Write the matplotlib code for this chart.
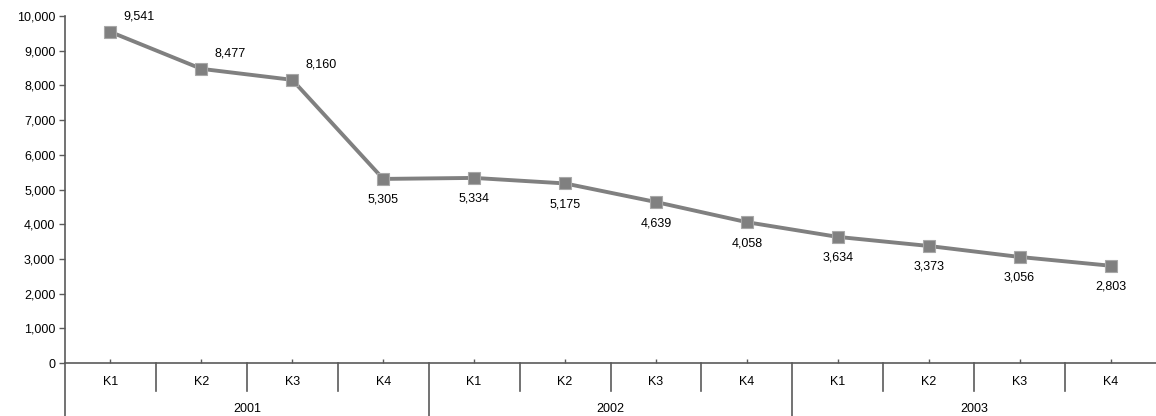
import matplotlib
matplotlib.use("Agg")
import matplotlib.pyplot as plt
from matplotlib.ticker import FuncFormatter, MultipleLocator
import matplotlib.transforms as mtransforms

quarters = ["K1", "K2", "K3", "K4"] * 3
years = ["2001", "2002", "2003"]
values = [9541, 8477, 8160, 5305, 5334, 5175, 4639, 4058, 3634, 3373, 3056, 2803]

plt.rcParams['font.family'] = ['Liberation Sans', 'DejaVu Sans']
W, H = 1156, 416
fig = plt.figure(figsize=(W / 100, H / 100), dpi=100)
ax = fig.add_axes([65 / W, (H - 363) / H, 1 - 65 / W, (363 - 16) / H])

FS = 9
line_c = '#808080'
axis_c = '#5a5a5a'
x = list(range(len(values)))
ax.plot(x, values, color=line_c, lw=2.8, marker='s', ms=8, mfc=line_c, mec='#a8a8a8', mew=0.8, zorder=3)

ax.set_xlim(-0.5, len(values) - 0.5)
ax.set_ylim(0, 10000)
ax.yaxis.set_major_locator(MultipleLocator(1000))
ax.yaxis.set_major_formatter(FuncFormatter(lambda v, p: f"{int(v):,}"))
ax.tick_params(axis='y', direction='out', length=4, width=1, color=axis_c, labelsize=FS, pad=3)
ax.set_xticks(x)
ax.set_xticklabels([])
ax.tick_params(axis='x', direction='in', length=3, width=1, color=axis_c)
for s in ['top', 'right']:
    ax.spines[s].set_visible(False)
for s in ['left', 'bottom']:
    ax.spines[s].set_color(axis_c)
    ax.spines[s].set_linewidth(1.2)

# data labels
for i, v in enumerate(values):
    if i < 3:
        ax.annotate(f"{v:,}", (i, v), xytext=(13, 15), textcoords='offset pixels',
                    ha='left', va='center', fontsize=FS, color='#000000')
    else:
        ax.annotate(f"{v:,}", (i, v), xytext=(0, -21), textcoords='offset pixels',
                    ha='center', va='center', fontsize=FS, color='#000000')

# multi-level category axis
trans = mtransforms.blended_transform_factory(ax.transData, ax.transAxes)
ph = 363 - 16
sep_y = -(391 - 363) / ph
bot_y = -(416 - 363) / ph
q_y = -(382 - 363) / ph
yr_y = -(409 - 363) / ph
for i in range(len(values)):
    if (i + 1) % 4 == 0:
        continue
    ax.plot([i + 0.5, i + 0.5], [0, sep_y], transform=trans, color=axis_c, lw=1.2, clip_on=False)
for b in [-0.5, 3.5, 7.5]:
    ax.plot([b, b], [0, bot_y], transform=trans, color=axis_c, lw=1.2, clip_on=False)
for i, q in enumerate(quarters):
    ax.text(i, q_y, q, transform=trans, ha='center', va='center', fontsize=FS)
for j, yr in enumerate(years):
    ax.text(4 * j + 1.5, yr_y, yr, transform=trans, ha='center', va='center', fontsize=FS)

fig.savefig("out.png", dpi=100)
